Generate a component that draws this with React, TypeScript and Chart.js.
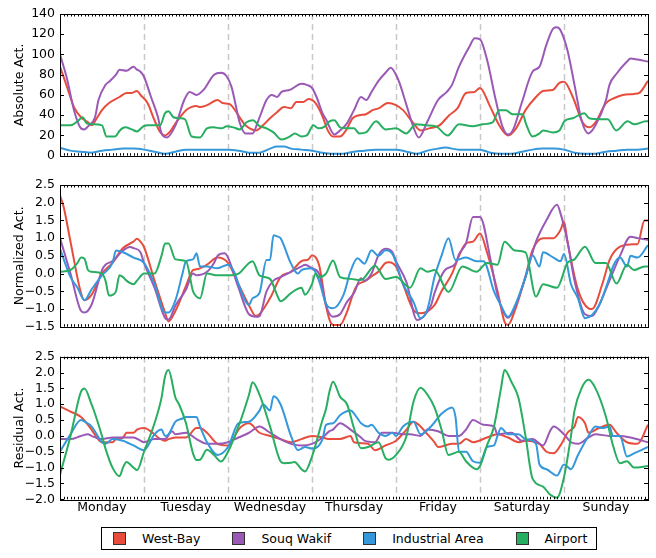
import { useEffect, useRef } from "react";
import { Chart, registerables } from "chart.js";
Chart.register(...registerables);

Chart.defaults.font.family = "'DejaVu Sans', sans-serif";
Chart.defaults.font.size = 12.5;
Chart.defaults.color = "#000";

// [hour of week, value]
type Pt = [number, number];

const seriesNames = ["West-Bay", "Souq Wakif", "Industrial Area", "Airport"];
const seriesColors = ["#e74c3c", "#9b59b6", "#3498db", "#27ae60"];
const dayNames = ["Monday", "Tuesday", "Wednesday", "Thursday", "Friday", "Saturday", "Sunday"];
const dayCenters = [12, 36, 60, 84, 108, 132, 156];
const dayBounds = [24, 48, 72, 96, 120, 144];

// ---- Absolute activity ----
const absWestBay: Pt[] = [
  [0, 88], [2, 68], [4, 48], [6, 38], [8, 33], [9, 30], [10.5, 37], [12, 45], [14, 52], [17, 58],
  [19, 62], [20.5, 62], [22, 64], [23, 60], [25, 52], [27, 35], [28.5, 24], [30, 20], [31.5, 24],
  [33, 32], [36, 45], [37.5, 48], [39, 49], [40, 48], [42, 50], [45, 55], [46.5, 52], [48.5, 51],
  [50, 45], [51.5, 37], [53, 30], [56, 25], [58, 30], [60, 37], [62, 43], [64, 48], [66, 47],
  [67.5, 53], [69.5, 53], [71, 56], [73, 52], [75, 39], [76.5, 25], [78, 19], [80, 19], [81.7, 25],
  [83.6, 37], [85.5, 40], [87.4, 41], [89.3, 45], [91.2, 47], [93.6, 52], [96, 50], [98, 45],
  [100.8, 33], [103, 25], [105.5, 27], [108.4, 30], [111.2, 40], [113.6, 47], [116, 62], [118.4, 63],
  [120, 67], [122.7, 50], [125.5, 30], [128, 20], [130.3, 27], [133, 45], [136, 58], [138, 64],
  [140.8, 65], [142.7, 72], [144, 73], [146.5, 58], [149.3, 33], [151.2, 28], [153, 33], [156, 52],
  [158.4, 57], [160.8, 60], [164, 61], [165.5, 62], [168, 74],
];
const absSouqWakif: Pt[] = [
  [0, 100], [2, 76], [4, 45], [6, 27], [7, 26], [8, 29], [10, 38], [11, 55], [13, 70], [14, 73],
  [16, 80], [17, 85], [19, 84], [21, 88], [22, 85], [23, 83], [24, 78], [26, 58], [28, 38], [29, 22],
  [30.5, 18], [33, 30], [35.5, 55], [37, 63], [39, 60], [41, 65], [44, 80], [46, 82], [47.5, 79],
  [49, 68], [51.4, 32], [53, 22], [55, 22], [56.7, 35], [59, 55], [60.5, 60], [62, 58], [63.3, 63],
  [65.7, 65], [69, 71], [70.5, 70], [72, 67], [73.3, 58], [75, 42], [76, 36], [78.4, 21], [80, 25],
  [82, 32], [84, 45], [86, 58], [87.5, 55], [89, 63], [91, 74], [93, 82], [94.5, 87], [96, 80],
  [97, 72], [99, 50], [101, 28], [102.5, 18], [105, 34], [108, 55], [110.5, 63], [112, 70], [114, 88],
  [117, 108], [118.5, 116], [120, 115], [122, 95], [124.5, 55], [126.5, 28], [128, 21], [129.5, 26],
  [132, 53], [135, 83], [137, 88], [139, 110], [141, 126], [142, 127], [143, 124], [145, 104],
  [147, 70], [149, 35], [151, 22], [153, 30], [156, 55], [157, 70], [159, 81], [162, 93], [163, 96],
  [165, 95], [168, 93],
];
const absIndustrial: Pt[] = [
  [0, 8], [3, 5], [6, 4], [9, 3], [12, 5], [15, 6], [18, 7], [21, 7], [24, 6], [27, 4], [30, 2],
  [33, 4], [36, 6], [39, 6], [42, 6], [45, 6], [48, 6], [51, 5], [54, 3], [57, 3], [60, 7], [62, 9],
  [64, 9], [66, 7], [69, 6], [72, 5], [75, 3], [78, 2], [81, 2], [84, 4], [87, 5], [90, 6], [93, 6],
  [96, 6], [99, 4], [102, 2], [105, 5], [108, 7], [110, 8], [114, 6], [117, 6], [120, 6], [123, 3],
  [126, 2], [129, 2], [132, 4], [135, 6], [138, 7], [141, 7], [144, 6], [147, 3], [150, 2], [153, 2],
  [156, 4], [159, 5], [162, 6], [165, 6], [168, 7],
];
const absAirport: Pt[] = [
  [0, 30], [3, 30], [5, 34], [6.5, 38], [7.6, 32], [9.5, 31], [12, 30], [13.3, 19], [15.7, 19],
  [17.1, 25], [18.6, 28], [20.5, 26], [22, 24], [23.8, 29], [25.2, 30], [28.6, 30], [30, 42], [31, 44],
  [32.4, 38], [34.3, 37], [35.7, 36], [37.6, 19], [40, 18], [42, 27], [43.8, 28], [46.2, 27],
  [47.6, 29], [49.5, 28], [51.4, 26], [53.3, 33], [55.2, 35], [56.7, 30], [59, 27], [61, 23],
  [63.3, 16], [65.7, 19], [67.1, 22], [69, 19], [70.5, 20], [72.4, 30], [73.8, 27], [75.7, 29],
  [77, 34], [78.4, 35], [80, 28], [82, 27], [84, 27], [85.5, 22], [87.4, 23], [90.3, 34], [93, 26],
  [96, 27], [98.9, 22], [101.7, 31], [104.6, 30], [107.4, 29], [110.8, 20], [114, 31], [117.9, 29],
  [120.8, 31], [123.6, 33], [125.5, 45], [127.4, 45], [129.3, 41], [132.2, 41], [133.1, 32],
  [135, 19], [137, 22], [138, 25], [140.8, 23], [142.7, 25], [144.1, 34], [146.5, 37], [149.8, 42],
  [151.2, 37], [155, 36], [156.5, 36], [158.9, 25], [162.2, 34], [164.1, 31], [167.4, 34], [168, 34],
];

// ---- Normalized activity ----
const normWestBay: Pt[] = [
  [0, 2.2], [1, 1.9], [3, 0.9], [6, -0.55], [7, -0.75], [9, -0.6], [12, 0.0], [15, 0.3], [18, 0.72],
  [21, 0.9], [22, 0.98], [23, 0.9], [24, 0.75], [27, -0.2], [30, -1.1], [31, -1.35], [33, -1.05],
  [36, -0.35], [38, 0.1], [39, 0.12], [42, 0.25], [45, 0.45], [48, 0.3], [51, -0.3], [54, -0.9],
  [56, -1.2], [57, -1.15], [60, -0.7], [63, -0.1], [66, 0.05], [69, 0.35], [71, 0.4], [72, 0.52],
  [74, 0.25], [76, -0.9], [77, -1.3], [78, -1.45], [80, -1.45], [82, -1.08], [84, -0.5], [85, -0.32],
  [87, -0.22], [89, -0.08], [91, 0.06], [93, 0.3], [94, 0.32], [96, 0.2], [98, -0.3], [101, -1.03],
  [103, -1.12], [107, -0.89], [109, -0.5], [112, 0.0], [114, 0.5], [116, 0.85], [118, 0.9],
  [120, 1.13], [122, 0.6], [125, -0.5], [127, -1.36], [128, -1.45], [130, -1.03], [133, -0.08],
  [135, 0.66], [138, 1.0], [141, 1.0], [143, 1.23], [144, 1.46], [145, 0.9], [148, -0.46],
  [151, -0.98], [152, -1.0], [155, -0.28], [157, 0.38], [160, 0.76], [164, 0.83], [165, 0.83],
  [167, 1.5], [168, 1.5],
];
const normSouqWakif: Pt[] = [
  [0, 1.0], [3, 0.0], [6, -1.05], [7, -1.1], [9, -0.88], [12, 0.1], [13, 0.25], [15, 0.35],
  [18, 0.65], [20, 0.75], [21, 0.72], [23, 0.6], [24, 0.3], [27, -0.4], [30, -1.25], [31, -1.3],
  [33, -0.9], [36, -0.45], [38, 0.0], [39, -0.05], [42, 0.05], [44, 0.3], [45, 0.5], [47, 0.57],
  [48, 0.45], [51, -0.4], [54, -1.15], [56, -1.22], [57, -1.2], [59, -0.5], [61, -0.2], [63, -0.1],
  [66, 0.05], [69, 0.2], [70, 0.25], [72, 0.15], [74, 0.0], [76, -0.9], [78, -1.22], [80, -1.15],
  [82, -0.8], [84, -0.55], [86, -0.13], [87, -0.2], [89, 0.0], [91, 0.52], [93, 0.7], [95, 0.6],
  [96, 0.35], [99, -0.25], [102, -1.31], [104, -1.2], [106, -0.9], [107, -0.55], [110, 0.1],
  [113, 0.28], [114, 0.55], [116, 0.85], [118, 1.6], [120, 1.6], [123, 0.4], [125, -0.6],
  [128, -1.25], [130, -0.95], [133, -0.1], [136, 0.9], [139, 1.51], [142, 1.94], [143, 1.7],
  [145, 0.9], [147, -0.2], [150, -1.15], [152, -1.2], [154, -0.9], [157, -0.2], [160, 0.5],
  [163, 1.04], [165, 1.0], [168, 0.95],
];
const normIndustrial: Pt[] = [
  [0, 0.7], [3, -0.1], [5, -0.4], [7, -0.75], [9, -0.45], [12, -0.05], [15, 0.3], [16, 0.65],
  [18, 0.6], [21, 0.45], [24, 0.3], [27, -0.3], [30, -1.1], [31, -1.1], [33, -0.75], [35, 0.0],
  [36, 0.35], [38, 0.4], [39, 0.57], [40, 0.2], [42, 0.2], [45, 0.15], [48, 0.25], [50, 0.0],
  [51, -0.3], [54, -0.88], [55, -0.7], [57, -0.55], [59, 0.38], [60, 0.38], [61, 1.08], [62, 1.05],
  [63, 1.0], [66, 0.28], [68, 0.0], [69, 0.1], [72, 0.15], [74, -0.2], [76, -0.85], [78, -0.98],
  [81, -0.6], [83, 0.06], [85, 0.43], [87, 0.28], [89, 0.66], [91, 0.5], [93, 0.66], [95, 0.55],
  [98, -0.3], [101, -0.8], [103, -1.26], [105, -1.0], [107, -0.1], [109, 0.5], [111, 1.0],
  [113, 0.38], [116, 0.45], [119, 0.35], [121, 0.35], [124, -0.5], [126, -0.9], [128, -1.22],
  [130, -0.9], [133, -0.1], [135, 0.52], [137, 0.2], [138, 0.6], [141, 0.45], [143, 0.35],
  [144, 0.55], [146, -0.3], [148, -0.7], [150, -1.26], [154, -0.9], [157, -0.1], [158, 0.2],
  [160, 0.45], [162, 0.2], [163, 0.5], [165, 0.45], [168, 0.8],
];
const normAirport: Pt[] = [
  [0, 0.05], [3, 0.1], [5, 0.3], [6, 0.45], [7, 0.42], [8, 0.1], [9, 0.05], [12, 0.0], [13, -0.2],
  [14, -0.62], [15, -0.6], [16, -0.5], [17, -0.05], [18, -0.1], [19, -0.2], [21, -0.3], [22, -0.2],
  [24, 0.0], [27, 0.0], [29, 0.5], [30, 0.85], [31, 0.85], [33, 0.4], [36, 0.35], [38, -0.5],
  [39, -0.65], [40, -0.7], [42, 0.0], [45, -0.05], [48, -0.05], [51, 0.0], [54, 0.3], [55, 0.35],
  [57, -0.05], [60, -0.15], [62, -0.6], [63, -0.78], [66, -0.55], [69, -0.4], [70, -0.6], [72, -0.3],
  [73, 0.0], [74, -0.1], [76, 0.0], [78, 0.37], [80, -0.1], [83, -0.15], [86, -0.18], [90, 0.22],
  [93, -0.15], [96, -0.1], [100, -0.4], [103, 0.15], [105, 0.05], [107, 0.1], [111, -0.52],
  [115, 0.2], [119, 0.05], [122, 0.3], [125, 0.25], [127, 0.9], [130, 0.65], [133, 0.6],
  [136, -0.65], [138, -0.3], [142, -0.4], [145, 0.3], [147, 0.4], [150, 0.76], [153, 0.3],
  [156, 0.3], [159, -0.28], [162, 0.25], [164, 0.1], [167, 0.2], [168, 0.2],
];

// ---- Residual activity ----
const resWestBay: Pt[] = [
  [0, 0.93], [3, 0.77], [6, 0.6], [8, 0.35], [9, 0.2], [12, -0.2], [15, -0.2], [16, -0.1],
  [18, -0.05], [19, 0.1], [21, 0.1], [22, 0.2], [24, 0.25], [27, 0.05], [28, -0.05], [30, -0.15],
  [31, -0.1], [33, -0.05], [36, -0.05], [39, 0.25], [40, 0.25], [42, 0.1], [45, -0.25], [48, -0.3],
  [49, -0.2], [51, 0.2], [54, 0.4], [57, 0.1], [60, 0.0], [63, -0.1], [66, -0.2], [69, -0.1],
  [72, 0.0], [75, -0.05], [77, -0.1], [80, -0.1], [83, 0.0], [84, -0.2], [88, -0.25], [90, -0.45],
  [93, -0.3], [96, -0.15], [99, 0.2], [101, 0.45], [103, 0.3], [105, 0.05], [107, -0.2],
  [108, -0.35], [112, -0.25], [114, -0.25], [116, -0.1], [118, -0.2], [122, -0.05], [125, 0.05],
  [128, -0.05], [131, -0.2], [133, -0.15], [137, -0.25], [139, -0.5], [141, -0.55], [143, -0.3],
  [145, 0.1], [147, 0.3], [148, 0.6], [150, 0.4], [151, 0.1], [154, 0.25], [157, 0.35], [159, 0.1],
  [162, -0.2], [165, -0.25], [168, 0.35],
];
const resSouqWakif: Pt[] = [
  [0, -0.1], [3, -0.1], [6, 0.0], [8, 0.05], [9, 0.0], [12, -0.1], [15, -0.05], [18, -0.05],
  [21, -0.05], [23, -0.15], [24, -0.2], [27, -0.1], [30, -0.1], [32, 0.15], [33, 0.05], [36, 0.1],
  [39, -0.1], [42, -0.25], [45, -0.25], [48, -0.2], [51, -0.05], [54, 0.1], [57, 0.3], [60, 0.1],
  [63, -0.1], [66, -0.25], [69, -0.3], [72, -0.25], [75, -0.05], [77, 0.15], [78, 0.2], [80, 0.4],
  [83, 0.2], [86, -0.05], [87, -0.15], [90, -0.2], [92, 0.1], [95, 0.1], [98, 0.05], [100, 0.05],
  [103, 0.0], [105, 0.2], [108, 0.15], [111, 0.0], [114, 0.0], [116, 0.2], [118, 0.5], [121, 0.35],
  [124, 0.3], [125, 0.05], [129, 0.1], [132, -0.15], [135, -0.1], [138, -0.3], [140, 0.15],
  [141, 0.3], [144, 0.05], [146, -0.2], [148, -0.25], [151, -0.05], [153, 0.05], [157, 0.0],
  [160, 0.0], [163, -0.05], [168, -0.2],
];
const resIndustrial: Pt[] = [
  [0, -0.5], [3, 0.05], [6, 0.5], [7, 0.45], [9, 0.3], [12, -0.2], [13, -0.25], [15, -0.1],
  [18, -0.15], [19, -0.2], [21, -0.3], [24, -0.45], [27, 0.05], [29, 0.2], [30, 0.0], [31, 0.05],
  [33, 0.45], [35, 0.55], [36, 0.6], [39, 0.6], [40, 0.3], [42, -0.2], [45, -0.6], [48, -0.35],
  [51, 0.4], [54, 0.45], [57, 0.8], [58, 1.0], [60, 0.8], [61, 1.25], [63, 1.0], [66, 0.0],
  [68, -0.45], [69, -0.4], [70, -0.35], [72, -0.4], [75, -0.1], [76, 0.35], [78, 0.4], [80, 0.65],
  [83, 0.8], [85, 0.55], [86, 0.4], [88, 0.3], [89, 0.35], [91, 0.1], [93, 0.0], [95, 0.1], [96, 0.0],
  [98, 0.3], [101, 0.45], [103, 0.05], [106, 0.3], [109, 0.7], [112, 0.9], [113, 0.6], [114, -0.5],
  [116, -0.5], [118, -0.8], [120, -0.85], [122, -0.35], [124, -0.3], [125, 0.0], [126, 0.25],
  [128, 0.05], [131, 0.05], [133, -0.1], [136, -0.25], [137, -0.9], [139, -1.05], [142, -1.25],
  [144, -0.9], [146, -1.05], [148, -0.6], [151, 0.0], [153, 0.3], [155, 0.25], [157, 0.3], [158, 0.0],
  [160, 0.0], [162, -0.65], [164, -0.55], [168, -0.35],
];
const resAirport: Pt[] = [
  [0, -1.23], [3, 0.0], [6, 1.4], [7, 1.5], [9, 1.0], [10, 0.7], [12, 0.0], [13, -0.4], [15, -1.0],
  [17, -1.27], [18, -1.0], [19, -0.82], [21, -1.0], [22, -1.08], [24, -0.5], [27, 0.4], [29, 1.2],
  [30, 1.87], [31, 2.08], [33, 1.2], [34, 1.0], [36, 0.4], [38, -0.55], [39, -0.76], [40, -0.75],
  [42, -0.44], [44, -0.6], [46, -0.81], [48, -0.5], [51, 0.3], [54, 1.3], [55, 1.69], [57, 1.3],
  [60, 0.3], [63, -0.8], [64, -0.86], [66, -0.85], [67, -0.82], [69, -1.05], [70, -1.12], [72, -0.65],
  [75, 0.5], [76, 0.85], [77, 1.4], [78, 1.71], [80, 1.24], [82, 1.0], [84, 0.24], [86, -0.39],
  [88, -0.35], [91, -0.2], [93, -0.7], [94, -0.75], [96, -0.6], [99, 0.0], [101, 1.08], [103, 1.52],
  [105, 1.3], [107, 0.9], [109, 0.2], [111, -0.6], [114, -0.5], [116, -0.8], [119, -1.05],
  [120, -0.95], [122, -0.3], [124, 0.3], [126, 1.5], [127, 2.08], [129, 1.7], [131, 1.2], [133, 0.0],
  [135, -1.34], [138, -1.6], [140, -1.85], [142, -1.95], [144, -1.3], [146, 0.0], [147, 0.8],
  [149, 1.5], [151, 1.77], [153, 1.5], [156, 0.6], [158, -0.3], [160, -0.86], [162, -0.8],
  [164, -1.0], [168, -0.95],
];

// matplotlib-like frame: box, inward ticks, dashed day separators
const framePlugin = {
  id: "mplFrame",
  beforeDatasetsDraw(chart: any) {
    const { ctx, chartArea: a, scales } = chart;
    ctx.save();
    ctx.strokeStyle = "#c8c8c8";
    ctx.lineWidth = 1.5;
    ctx.setLineDash([6, 4]);
    dayBounds.forEach((h) => {
      const px = Math.round(scales.x.getPixelForValue(h)) + 0.5;
      ctx.beginPath();
      ctx.moveTo(px, a.top);
      ctx.lineTo(px, a.bottom);
      ctx.stroke();
    });
    ctx.restore();
  },
  afterDatasetsDraw(chart: any) {
    const { ctx, chartArea: a, scales } = chart;
    ctx.save();
    ctx.strokeStyle = "#000";
    ctx.lineWidth = 1;
    ctx.beginPath();
    for (let h = 0; h <= 168; h++) {
      const px = Math.round(scales.x.getPixelForValue(h)) + 0.5;
      ctx.moveTo(px, a.top);
      ctx.lineTo(px, a.top + 2.5);
      ctx.moveTo(px, a.bottom);
      ctx.lineTo(px, a.bottom - 2.5);
    }
    scales.y.ticks.forEach((t: any) => {
      const py = Math.round(scales.y.getPixelForValue(t.value)) + 0.5;
      ctx.moveTo(a.left, py);
      ctx.lineTo(a.left + 4, py);
      ctx.moveTo(a.right, py);
      ctx.lineTo(a.right - 4, py);
    });
    ctx.stroke();
    ctx.strokeRect(Math.round(a.left) + 0.5, Math.round(a.top) + 0.5, Math.round(a.width), Math.round(a.height));
    ctx.restore();
  },
};

type PanelProps = {
  top: number;
  height: number;
  padTop: number;
  padBottom: number;
  series: Pt[][];
  yMin: number;
  yMax: number;
  yStep: number;
  decimals: number;
  title: string;
  showDays?: boolean;
  xAxisHeight?: number;
};

const fmt = (v: number, d: number) => Number(v).toFixed(d).replace("-", "\u2212");

const Panel = (p: PanelProps) => {
  const ref = useRef<HTMLCanvasElement>(null);
  useEffect(() => {
    const chart = new Chart(ref.current!, {
      type: "line",
      data: {
        datasets: p.series.map((pts, i) => ({
          label: seriesNames[i],
          data: pts.map(([x, y]) => ({ x, y })),
          borderColor: seriesColors[i],
          backgroundColor: seriesColors[i],
          borderWidth: 2,
          pointRadius: 0,
          fill: false,
          cubicInterpolationMode: "monotone" as const,
          order: 3 - i,
        })),
      },
      options: {
        animation: false,
        responsive: true,
        maintainAspectRatio: false,
        events: [],
        layout: { padding: { top: p.padTop, bottom: p.padBottom, left: 0, right: 8 } },
        plugins: { legend: { display: false }, tooltip: { enabled: false } },
        scales: {
          x: {
            type: "linear",
            min: 0,
            max: 168,
            display: !!p.showDays,
            grid: { display: false, drawTicks: false },
            border: { display: false },
            afterBuildTicks: (s: any) => {
              s.ticks = dayCenters.map((v) => ({ value: v }));
            },
            afterFit: (s: any) => {
              if (p.xAxisHeight) s.height = p.xAxisHeight;
            },
            ticks: {
              padding: 1,
              maxRotation: 0,
              autoSkip: false,
              callback: (v: any) => dayNames[dayCenters.indexOf(Number(v))] ?? "",
            },
          },
          y: {
            min: p.yMin,
            max: p.yMax,
            grid: { display: false, drawTicks: false },
            border: { display: false },
            ticks: {
              stepSize: p.yStep,
              padding: 5,
              autoSkip: false,
              callback: (v: any) => fmt(v, p.decimals),
            },
            title: { display: true, text: p.title, padding: { top: 12.5, bottom: 0 } },
            afterFit: (s: any) => {
              s.width = 60;
            },
          },
        },
      } as any,
      plugins: [framePlugin],
    });
    return () => chart.destroy();
  }, []);
  return (
    <div style={{ position: "absolute", left: 0, top: p.top, width: 656, height: p.height }}>
      <canvas ref={ref}></canvas>
    </div>
  );
};

const Legend = () => (
  <div
    style={{
      position: "absolute",
      left: 101,
      top: 527,
      width: 496,
      height: 23,
      boxSizing: "border-box",
      border: "1px solid #000",
      display: "flex",
      alignItems: "center",
      paddingLeft: 11,
      gap: 32,
      fontFamily: "'DejaVu Sans', sans-serif",
      fontSize: 12.5,
      color: "#000",
    }}
  >
    {seriesNames.map((n, i) => (
      <div key={n} style={{ display: "flex", alignItems: "center", gap: 16 }}>
        <span
          style={{
            display: "inline-block",
            width: 13,
            height: 13,
            boxSizing: "border-box",
            background: seriesColors[i],
            border: "1px solid #333",
          }}
        />
        <span style={{ whiteSpace: "nowrap" }}>{n}</span>
      </div>
    ))}
  </div>
);

export default function App() {
  return (
    <div style={{ position: "absolute", left: 0, top: 0, width: 656, height: 558, background: "#fff" }}>
      <Panel
        top={0}
        height={170}
        padTop={14}
        padBottom={14.3}
        series={[absWestBay, absSouqWakif, absIndustrial, absAirport]}
        yMin={0}
        yMax={140}
        yStep={20}
        decimals={0}
        title="Absolute Act."
      />
      <Panel
        top={170}
        height={170}
        padTop={15}
        padBottom={13.3}
        series={[normWestBay, normSouqWakif, normIndustrial, normAirport]}
        yMin={-1.5}
        yMax={2.5}
        yStep={0.5}
        decimals={1}
        title="Normalized Act."
      />
      <Panel
        top={340}
        height={180}
        padTop={16.7}
        padBottom={0}
        series={[resWestBay, resSouqWakif, resIndustrial, resAirport]}
        yMin={-2}
        yMax={2.5}
        yStep={0.5}
        decimals={1}
        title="Residual Act."
        showDays
        xAxisHeight={20.7}
      />
      <Legend />
    </div>
  );
}
